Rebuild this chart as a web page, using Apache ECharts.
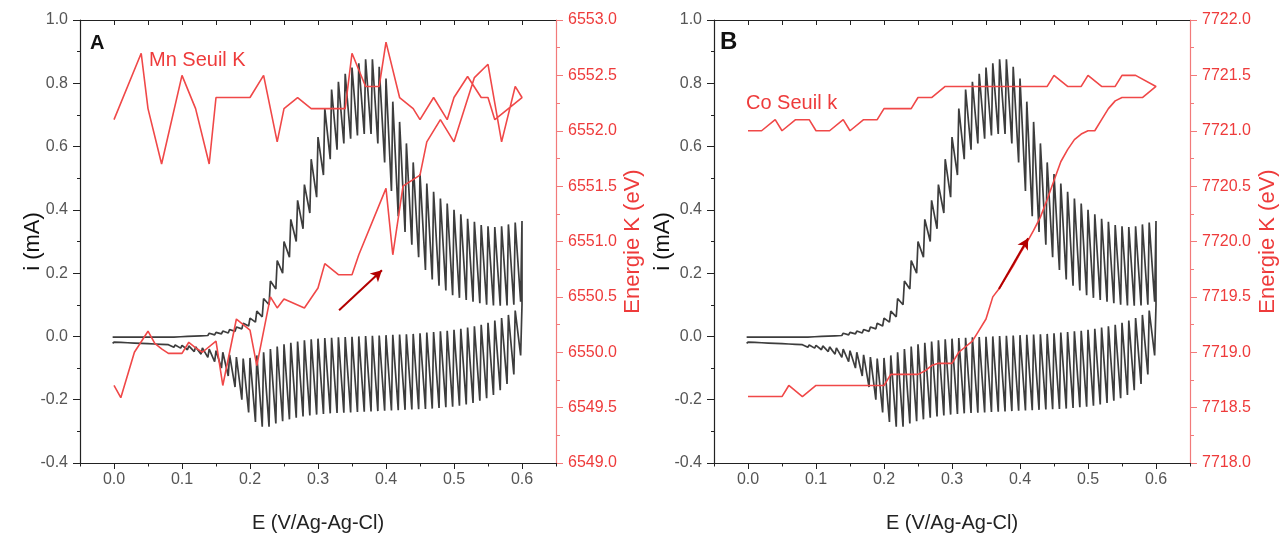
<!DOCTYPE html>
<html><head><meta charset="utf-8">
<script src="https://cdn.jsdelivr.net/npm/echarts@6/dist/echarts.min.js"></script>
<style>html,body{margin:0;padding:0;background:#fff}#c{width:1286px;height:535px}</style>
</head><body><div id="c"></div>
<script>
// ---- tick positions ----
const xMajorTicks = [0.0, 0.1, 0.2, 0.3, 0.4, 0.5, 0.6];
const xMinorTicks = [-0.05, 0.05, 0.15, 0.25, 0.35, 0.45, 0.55, 0.65];
const xTopTicks = [0.0, 0.05, 0.1, 0.15, 0.2, 0.25, 0.3, 0.35, 0.4, 0.45, 0.5, 0.55, 0.6];

// ---- cyclic voltammogram: one tooth per potential step (E in V, i in mA) ----
const cvE = [0.00,0.01,0.02,0.03,0.04,0.05,0.06,0.07,0.08,0.09,
             0.10,0.11,0.12,0.13,0.14,0.15,0.16,0.17,0.18,0.19,
             0.20,0.21,0.22,0.23,0.24,0.25,0.26,0.27,0.28,0.29,
             0.30,0.31,0.32,0.33,0.34,0.35,0.36,0.37,0.38,0.39,
             0.40,0.41,0.42,0.43,0.44,0.45,0.46,0.47,0.48,0.49,
             0.50,0.51,0.52,0.53,0.54,0.55,0.56,0.57,0.58,0.59,0.60];
// forward scan (anodic): tooth top / bottom
const cvFwdTop = [0.003,0.003,0.003,0.003,0.003,0.003,0.003,0.003,0.003,0.003,
                  0.004,0.005,0.006,0.008,0.010,0.013,0.017,0.022,0.030,0.042,
                  0.058,0.080,0.120,0.175,0.240,0.300,0.370,0.430,0.480,0.560,
                  0.630,0.720,0.780,0.805,0.830,0.850,0.863,0.876,0.876,0.852,
                  0.815,0.742,0.678,0.610,0.550,0.513,0.483,0.457,0.436,0.420,
                  0.400,0.386,0.372,0.362,0.352,0.348,0.346,0.348,0.354,0.360,0.365];
const cvFwdBottom = [-0.002,-0.002,-0.002,-0.002,-0.002,-0.002,-0.002,-0.002,-0.002,-0.002,
                     -0.001,0.000,0.001,0.002,0.003,0.005,0.008,0.011,0.016,0.024,
                     0.033,0.045,0.062,0.100,0.150,0.200,0.250,0.300,0.340,0.390,
                     0.440,0.510,0.560,0.590,0.610,0.625,0.635,0.640,0.640,0.610,
                     0.550,0.460,0.380,0.330,0.290,0.250,0.210,0.180,0.160,0.145,
                     0.130,0.122,0.115,0.110,0.105,0.100,0.098,0.097,0.098,0.100,0.110];
// reverse scan (cathodic): tooth top / bottom
const cvRevTop = [-0.018,-0.019,-0.020,-0.021,-0.022,-0.023,-0.024,-0.025,-0.026,-0.027,
                  -0.028,-0.030,-0.033,-0.036,-0.040,-0.045,-0.050,-0.058,-0.065,-0.070,
                  -0.068,-0.060,-0.050,-0.040,-0.032,-0.025,-0.020,-0.016,-0.012,-0.009,
                  -0.007,-0.005,-0.004,-0.003,-0.002,-0.001,0.000,0.001,0.002,0.003,
                  0.004,0.005,0.006,0.007,0.008,0.010,0.012,0.014,0.016,0.018,
                  0.021,0.024,0.028,0.032,0.037,0.043,0.050,0.058,0.068,0.082,0.100];
const cvRevBottom = [-0.022,-0.023,-0.024,-0.025,-0.026,-0.027,-0.028,-0.030,-0.032,-0.034,
                     -0.037,-0.042,-0.048,-0.056,-0.066,-0.080,-0.100,-0.125,-0.160,-0.200,
                     -0.240,-0.270,-0.285,-0.285,-0.275,-0.268,-0.262,-0.257,-0.253,-0.250,
                     -0.247,-0.245,-0.243,-0.242,-0.241,-0.240,-0.239,-0.238,-0.237,-0.236,
                     -0.235,-0.234,-0.233,-0.232,-0.231,-0.230,-0.229,-0.228,-0.226,-0.224,
                     -0.222,-0.219,-0.215,-0.210,-0.203,-0.195,-0.185,-0.170,-0.150,-0.120,-0.060];

// ---- Mn K-edge energy (panel A), loop order: forward then return ----
const mnE = [0.00,0.01,0.03,0.05,0.06,0.07,0.08,0.10,0.11,0.12,0.13,0.15,0.16,0.18,0.20,0.21,
             0.23,0.24,0.25,0.28,0.30,0.31,0.33,0.35,0.36,0.40,0.41,0.425,0.45,0.46,0.48,0.50,
             0.53,0.55,0.57,0.59,0.60,
             0.56,0.55,0.54,0.52,0.50,0.49,0.47,0.45,0.44,0.42,0.40,0.39,0.37,0.35,0.34,0.29,
             0.27,0.25,0.24,0.22,0.20,0.15,0.14,0.12,0.10,0.07,0.05,0.04,0.00];
const mnEnergy = [6549.70,6549.59,6550.00,6550.19,6550.08,6550.03,6549.99,6549.99,6550.09,6550.04,6550.00,6550.10,6549.70,6550.30,6550.20,6549.88,
                  6550.50,6550.40,6550.48,6550.40,6550.58,6550.80,6550.70,6550.70,6550.88,6551.48,6550.88,6551.50,6551.60,6551.90,6552.10,6551.90,
                  6552.48,6552.60,6551.90,6552.40,6552.30,
                  6552.10,6552.30,6552.30,6552.49,6552.30,6552.10,6552.30,6552.10,6552.20,6552.30,6552.80,6552.40,6552.40,6552.70,6552.20,6552.20,
                  6552.30,6552.20,6551.90,6552.50,6552.30,6552.30,6551.70,6552.20,6552.50,6551.70,6552.20,6552.70,6552.10];

// ---- Co K-edge energy (panel B), loop order: forward then return ----
const coE = [0.00,0.05,0.06,0.08,0.10,0.20,0.21,0.25,0.26,0.27,0.28,0.30,0.31,0.33,0.34,0.35,0.36,0.37,
             0.38,0.39,0.40,0.41,0.42,0.43,0.44,0.45,0.46,0.47,0.48,0.49,0.50,0.51,0.52,0.53,0.54,0.55,0.58,0.60,
             0.57,0.55,0.54,0.52,0.50,0.49,0.47,0.45,0.44,0.29,0.27,0.25,0.24,0.20,0.19,0.17,0.15,0.14,
             0.12,0.10,0.09,0.07,0.05,0.04,0.02,0.00];
const coEnergy = [7718.60,7718.60,7718.70,7718.60,7718.70,7718.70,7718.80,7718.80,7718.83,7718.88,7718.90,7718.90,7719.00,7719.10,7719.20,7719.30,7719.50,7719.58,
                  7719.68,7719.78,7719.89,7719.99,7720.10,7720.22,7720.38,7720.55,7720.72,7720.83,7720.92,7720.97,7721.00,7721.00,7721.10,7721.20,7721.27,7721.30,7721.30,7721.40,
                  7721.50,7721.50,7721.40,7721.40,7721.50,7721.40,7721.40,7721.50,7721.40,7721.40,7721.30,7721.30,7721.20,7721.20,7721.10,7721.10,7721.00,7721.10,
                  7721.00,7721.00,7721.10,7721.10,7721.00,7721.10,7721.00,7721.00];

// ---- arrows (tail, head) in (E, energy) ----
const mnArrow = [[0.331, 6550.38], [0.394, 6550.74]];
const coArrow = [[0.369, 7719.57], [0.412, 7720.03]];

// ---------------------------------------------------------------
const SPIKE = 0.002;
function buildCV() {
  const pts = [];
  for (let k = 0; k < cvE.length; k++) {
    pts.push([cvE[k] - SPIKE, cvFwdBottom[k]]);
    pts.push([cvE[k], cvFwdTop[k]]);
  }
  for (let k = cvE.length - 1; k >= 0; k--) {
    pts.push([cvE[k], cvRevTop[k]]);
    pts.push([cvE[k] - SPIKE, cvRevBottom[k]]);
  }
  return pts;
}
const zip = (a, b) => a.map((v, i) => [v, b[i]]);

const FONT = '"Liberation Sans", Arial, sans-serif';
const GRAY = '#555555';
const RED = '#f04848';
const REDAXIS = '#f27a7a';
const REDTXT = '#ee3b3b';

function xAxes(gi) {
  return [
    { gridIndex: gi, type: 'value', min: -0.05, max: 0.65, position: 'bottom',
      name: 'E (V/Ag-Ag-Cl)', nameLocation: 'middle', nameGap: 50, nameMoveOverlap: false,
      nameTextStyle: { fontFamily: FONT, fontSize: 20, color: '#222' },
      axisLine: { show: true, onZero: false, lineStyle: { color: '#222', width: 1.2 } },
      axisTick: { show: true, length: 6, customValues: xMajorTicks, lineStyle: { color: '#222' } },
      axisLabel: { show: true, customValues: xMajorTicks, margin: 9, fontFamily: FONT, fontSize: 16, color: GRAY,
                   formatter: v => v.toFixed(1) },
      splitLine: { show: false } },
    { gridIndex: gi, type: 'value', min: -0.05, max: 0.65, position: 'bottom',
      axisLine: { show: false, onZero: false },
      axisTick: { show: true, length: 3.5, customValues: xMinorTicks, lineStyle: { color: '#222' } },
      axisLabel: { show: false }, splitLine: { show: false } },
    { gridIndex: gi, type: 'value', min: -0.05, max: 0.65, position: 'top',
      axisLine: { show: true, onZero: false, lineStyle: { color: '#222', width: 1.2 } },
      axisTick: { show: true, inside: true, length: 5, customValues: xTopTicks, lineStyle: { color: '#222' } },
      axisLabel: { show: false }, splitLine: { show: false } }
  ];
}
function yAxes(gi, emin, emax, leftGap, rightGap) {
  return [
    { gridIndex: gi, type: 'value', min: -0.4, max: 1.0, interval: 0.2, position: 'left',
      name: 'i (mA)', nameLocation: 'middle', nameGap: leftGap, nameRotate: 90, nameMoveOverlap: false,
      nameTextStyle: { fontFamily: FONT, fontSize: 22, color: '#111' },
      axisLine: { show: true, onZero: false, lineStyle: { color: '#222', width: 1.2 } },
      axisTick: { show: true, length: 7, lineStyle: { color: '#222' } },
      minorTick: { show: true, splitNumber: 2, length: 3, lineStyle: { color: '#222' } },
      axisLabel: { margin: 12, fontFamily: FONT, fontSize: 16, color: GRAY, formatter: v => v.toFixed(1) },
      splitLine: { show: false } },
    { gridIndex: gi, type: 'value', min: emin, max: emax, interval: 0.5, position: 'right',
      name: 'Energie K (eV)', nameLocation: 'middle', nameGap: rightGap, nameRotate: 90,
      nameTextStyle: { fontFamily: FONT, fontSize: 22, color: REDTXT },
      axisLine: { show: true, onZero: false, lineStyle: { color: REDAXIS, width: 1.2 } },
      axisTick: { show: true, length: 7, lineStyle: { color: REDAXIS } },
      minorTick: { show: true, splitNumber: 2, length: 4, lineStyle: { color: REDAXIS } },
      axisLabel: { margin: 12, fontFamily: FONT, fontSize: 16, color: REDTXT, formatter: v => v.toFixed(1) },
      splitLine: { show: false } }
  ];
}
function arrowLine(arr) {
  return { silent: true, symbol: ['none', 'arrow'], symbolSize: [9, 11], animation: false,
           label: { show: false }, lineStyle: { color: '#b30000', width: 2, type: 'solid' },
           emphasis: { disabled: true },
           data: [[{ coord: arr[0] }, { coord: arr[1] }]] };
}

const cvData = buildCV();
const CVSTYLE = { color: '#3d3d3d', width: 1.7 };
const chart = echarts.init(document.getElementById('c'), null, { renderer: 'canvas' });
chart.setOption({
  animation: false,
  backgroundColor: '#ffffff',
  grid: [
    { left: 80, top: 20, width: 476, height: 443, containLabel: false, outerBoundsMode: 'none' },
    { left: 714, top: 20, width: 476, height: 443, containLabel: false, outerBoundsMode: 'none' }
  ],
  xAxis: [...xAxes(0), ...xAxes(1)],
  yAxis: [...yAxes(0, 6549, 6553, 36, 66), ...yAxes(1, 7718, 7722, 40, 67)],
  series: [
    { type: 'line', xAxisIndex: 0, yAxisIndex: 0, data: cvData, showSymbol: false, symbol: 'none',
      lineStyle: CVSTYLE, silent: true },
    { type: 'line', xAxisIndex: 0, yAxisIndex: 1, data: zip(mnE, mnEnergy), showSymbol: false, symbol: 'none',
      lineStyle: { color: RED, width: 1.6 }, silent: true, markLine: arrowLine(mnArrow) },
    { type: 'line', xAxisIndex: 3, yAxisIndex: 2, data: cvData, showSymbol: false, symbol: 'none',
      lineStyle: CVSTYLE, silent: true },
    { type: 'line', xAxisIndex: 3, yAxisIndex: 3, data: zip(coE, coEnergy), showSymbol: false, symbol: 'none',
      lineStyle: { color: RED, width: 1.6 }, silent: true, markLine: arrowLine(coArrow) }
  ],
  graphic: [
    { type: 'text', left: 90, top: 33, style: { text: 'A', font: 'bold 20px ' + FONT, fill: '#111' } },
    { type: 'text', left: 720, top: 30, style: { text: 'B', font: 'bold 24px ' + FONT, fill: '#111' } },
    { type: 'text', left: 149, top: 50, style: { text: 'Mn Seuil K', font: '20px ' + FONT, fill: REDTXT } },
    { type: 'text', left: 746, top: 93, style: { text: 'Co Seuil k', font: '20px ' + FONT, fill: REDTXT } }
  ]
});
</script>
</body></html>
